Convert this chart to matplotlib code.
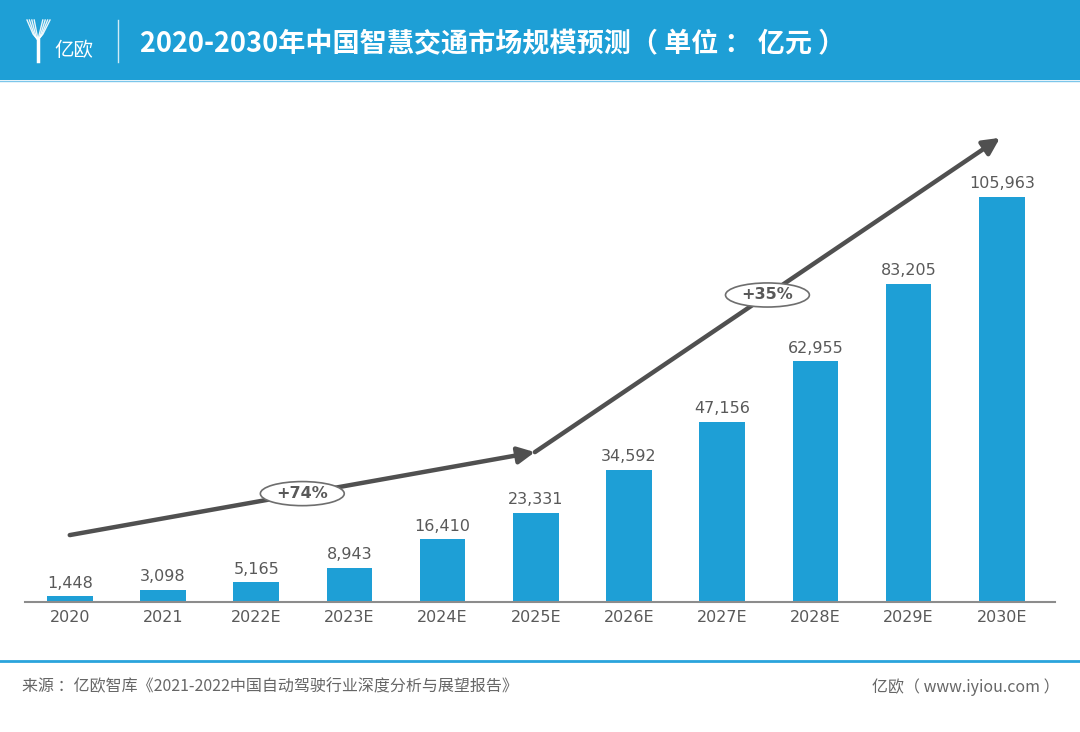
import matplotlib
matplotlib.use("Agg")
import matplotlib.pyplot as plt
from matplotlib.patches import Ellipse, Rectangle
from matplotlib.lines import Line2D

years = ["2020", "2021", "2022E", "2023E", "2024E", "2025E", "2026E", "2027E", "2028E", "2029E", "2030E"]
values = [1448, 3098, 5165, 8943, 16410, 23331, 34592, 47156, 62955, 83205, 105963]
labels = ["1,448", "3,098", "5,165", "8,943", "16,410", "23,331", "34,592", "47,156", "62,955", "83,205", "105,963"]
growth_labels = ["+74%", "+35%"]

title = "2020-2030年中国智慧交通市场规模预测（ 单位 ： 亿元 ）"
source = "来源 ：亿欧智库《2021-2022中国自动驾驶行业深度分析与展望报告》"
brand = "亿欧（ www.iyiou.com ）"

BLUE = "#1E9FD6"
GRAY = "#595959"
CJK = ["Noto Sans CJK SC", "DejaVu Sans"]

W, H = 1080, 732
fig = plt.figure(figsize=(W / 100, H / 100), dpi=100)
fig.patch.set_facecolor("white")

def fx(px):
    return px / W

def fy(py):
    return 1 - py / H

# header band
fig.patches.append(Rectangle((0, fy(80)), 1, 80 / H, transform=fig.transFigure,
                             facecolor=BLUE, edgecolor="none", zorder=0))
fig.lines.append(Line2D([0, 1], [fy(80.5), fy(80.5)], transform=fig.transFigure,
                        color="#7CC6EA", lw=1))
# logo
for dx in [0, 4, 8, 12]:
    fig.lines.append(Line2D([fx(27 + dx * 0.6), fx(33 + dx * 0.4), fx(38)],
                            [fy(20), fy(34 + dx * 0.4), fy(40)],
                            transform=fig.transFigure, color="white", lw=1.0, alpha=0.9))
    fig.lines.append(Line2D([fx(50 - dx * 0.6), fx(43 - dx * 0.4), fx(38)],
                            [fy(20), fy(34 + dx * 0.4), fy(40)],
                            transform=fig.transFigure, color="white", lw=1.0, alpha=0.9))
fig.lines.append(Line2D([fx(38), fx(38)], [fy(40), fy(61)], transform=fig.transFigure,
                        color="white", lw=2.5))
fig.text(fx(54), fy(50), "亿欧", family=CJK, fontsize=14, color="white",
         ha="left", va="center", fontweight="light")
fig.lines.append(Line2D([fx(118), fx(118)], [fy(20), fy(62)], transform=fig.transFigure,
                        color="white", lw=1, alpha=0.8))
fig.text(fx(140), fy(44), title, family=CJK, fontsize=19.5, fontweight="bold",
         color="white", ha="left", va="center")

# footer
fig.lines.append(Line2D([0, 1], [fy(661), fy(661)], transform=fig.transFigure,
                        color="#2AA4DC", lw=2))
fig.text(fx(22), fy(687), source, family=CJK, fontsize=11.5, color="#666666",
         ha="left", va="center", fontweight="light")
fig.text(fx(1060), fy(687), brand, family=CJK, fontsize=11.5, color="#666666",
         ha="right", va="center", fontweight="light")

# main axes
ax_left, ax_right, ax_top, ax_bottom = 25, 1055, 100, 602
ax = fig.add_axes([fx(ax_left), fy(ax_bottom), (ax_right - ax_left) / W, (ax_bottom - ax_top) / H])
ax.set_facecolor("none")
x = list(range(len(years)))
ax.bar(x, values, width=0.49, color=BLUE, zorder=2)
ax.set_xlim(-0.48, 10.57)
ax.set_ylim(0, 131300)
for xi, v, lab in zip(x, values, labels):
    ax.text(xi, v + 1500, lab, ha="center", va="bottom", fontsize=11.5, color=GRAY,
            family="DejaVu Sans")
ax.set_xticks(x)
ax.set_xticklabels(years, fontsize=11.5, color=GRAY)
ax.tick_params(axis="x", length=0, pad=6)
ax.set_yticks([])
for s in ["top", "right", "left"]:
    ax.spines[s].set_visible(False)
ax.spines["bottom"].set_color("#8C8C8C")
ax.spines["bottom"].set_linewidth(1.5)

# trend arrows
arrow_pts = [(0.0, 17500), (4.99, 39200), (9.98, 121400)]
ARROW = "#505050"
for (x0, y0), (x1, y1) in zip(arrow_pts[:-1], arrow_pts[1:]):
    ax.annotate("", xy=(x1, y1), xytext=(x0, y0),
                arrowprops=dict(arrowstyle="-|>,head_length=1.0,head_width=0.5",
                                color=ARROW, lw=3.2, shrinkA=0, shrinkB=0),
                zorder=3)

# growth ellipses
for (x0, y0), (x1, y1), g in zip(arrow_pts[:-1], arrow_pts[1:], growth_labels):
    t = 0.5
    mx, my = x0 + (x1 - x0) * t, y0 + (y1 - y0) * t
    e = Ellipse((mx, my), width=0.9, height=6300, facecolor="white",
                edgecolor="#6E6E6E", lw=1.2, zorder=4)
    ax.add_patch(e)
    ax.text(mx, my, g, ha="center", va="center", fontsize=11.5, fontweight="bold",
            color=GRAY, zorder=5)

fig.savefig("out.png", dpi=100, facecolor="white")
